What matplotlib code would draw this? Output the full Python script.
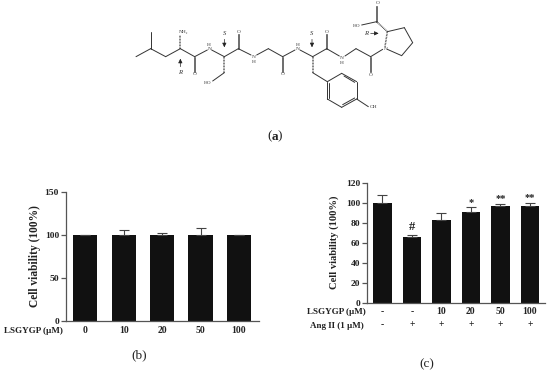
import matplotlib
matplotlib.use("Agg")
import matplotlib.pyplot as plt

W, H = 550, 373
plt.rcParams['font.family'] = ['Liberation Serif', 'DejaVu Serif']

doses_b = ['0', '10', '20', '50', '100']
values_b = [100, 100.3, 100.2, 100, 100]
errors_b = [0.3, 5, 2.5, 8, 0.3]

lsgygp_c = ['-', '-', '10', '20', '50', '100']
angii_c = ['-', '+', '+', '+', '+', '+']
values_c = [100, 66, 83, 90.5, 96.5, 97]
errors_c = [7.5, 1.5, 7, 5, 2.5, 3]
marks_c = ['', '#', '', '*', '**', '**']

fig = plt.figure(figsize=(W / 100, H / 100), dpi=100)


def make_axes(l, t, r, b):
    return fig.add_axes([l / W, 1 - b / H, (r - l) / W, (b - t) / H])


def style(ax, ticks, ylabel_size, pad):
    for s in ('top', 'right'):
        ax.spines[s].set_visible(False)
    for s in ('left', 'bottom'):
        ax.spines[s].set_color('#555555')
        ax.spines[s].set_linewidth(0.9)
    ax.set_yticks(ticks)
    ax.tick_params(axis='y', length=3.5, width=0.9, color='#555555', pad=1.5, labelsize=6.8)
    ax.tick_params(axis='x', length=0)
    ax.set_xticks([])
    for t in ax.get_yticklabels():
        t.set_fontweight('bold')
        t.set_color('#222222')
    ax.set_ylabel('Cell viability (100%)', fontsize=ylabel_size, fontweight='bold', color='#222222', labelpad=pad)


def bars(ax, vals, errs):
    x = list(range(len(vals)))
    ax.bar(x, vals, width=0.63, color='#111111')
    ax.errorbar(x, vals, yerr=[[0] * len(vals), errs], fmt='none', ecolor='#444444',
                elinewidth=0.8, capsize=3.6, capthick=0.8)
    return x


# Panel b
axb = make_axes(66, 192, 259, 320.7)
xb = bars(axb, values_b, errors_b)
axb.set_xlim(-0.5, 4.5 + 0.02)
axb.set_ylim(0, 150)
style(axb, [0, 50, 100, 150], 8.3, 3)
for xi, lab in zip(xb, doses_b):
    axb.annotate(lab, (xi, 0), xytext=(0, -7.2), textcoords='offset points', ha='center', va='center',
                 fontsize=6.9, fontweight='bold', color='#222222')
fig.text(33.7 / W, 1 - 331 / H, 'LSGYGP (µM)', ha='center', va='center', fontsize=6.6, fontweight='bold', color='#222222')
fig.text(139 / W, 1 - 355 / H, '(b)', ha='center', va='center', fontsize=9.5, color='#222222')

# Panel c
axc = make_axes(367.3, 182.7, 545, 302.7)
xc = bars(axc, values_c, errors_c)
axc.set_xlim(-0.51, 5.51)
axc.set_ylim(0, 120)
style(axc, [0, 20, 40, 60, 80, 100, 120], 7.6, 5)
for xi, a, b, v, e, m in zip(xc, lsgygp_c, angii_c, values_c, errors_c, marks_c):
    axc.annotate(a, (xi, 0), xytext=(0, -6.5), textcoords='offset points', ha='center', va='center',
                 fontsize=6.9, fontweight='bold', color='#222222')
    axc.annotate(b, (xi, 0), xytext=(0, -16), textcoords='offset points', ha='center', va='center',
                 fontsize=6.9, fontweight='bold', color='#222222')
    if m:
        axc.annotate(m, (xi, v + e), xytext=(0, 3.5 if m != '#' else 6), textcoords='offset points',
                     ha='center', va='center', fontsize=7.5 if m != '#' else 9, fontweight='bold', color='#222222')
fig.text(336.5 / W, 1 - 312 / H, 'LSGYGP (µM)', ha='center', va='center', fontsize=6.5, fontweight='bold', color='#222222')
fig.text(337 / W, 1 - 325.5 / H, 'Ang II (1 µM)', ha='center', va='center', fontsize=6.5, fontweight='bold', color='#222222')
fig.text(427 / W, 1 - 364 / H, '(c)', ha='center', va='center', fontsize=9.5, color='#222222')

# Panel a: peptide structure, in pixel coordinates of the figure
mol = fig.add_axes([0, 0, 1, 1], zorder=5)
mol.set_xlim(0, W)
mol.set_ylim(H, 0)
mol.axis('off')


def P(x, y):
    return 120 + x / 3, y / 3


bonds = [
    ((48, 170), (92, 146)), ((92, 146), (92, 97)), ((92, 146), (137, 170)), ((137, 170), (181, 146)),
    ((181, 146), (224, 170)), ((224, 170), (262, 150)), ((275, 150), (313, 170)), ((313, 170), (355, 146)),
    ((355, 146), (393, 165)), ((410, 165), (445, 146)), ((445, 146), (488, 170)), ((488, 170), (525, 150)),
    ((540, 150), (578, 170)), ((578, 170), (620, 146)), ((620, 146), (658, 168)), ((675, 168), (708, 146)),
    ((708, 146), (752, 170)), ((752, 170), (788, 148)), ((802, 95), (853, 83)), ((853, 83), (878, 128)),
    ((878, 128), (845, 167)), ((845, 167), (802, 148)), ((770, 65), (725, 75)), ((313, 218), (278, 243)),
    ((578, 218), (622, 245)), ((622, 245), (665, 220)), ((665, 220), (710, 245)), ((710, 245), (710, 297)),
    ((710, 297), (665, 322)), ((665, 322), (622, 297)), ((622, 297), (622, 245)), ((710, 297), (745, 320)),
]
double_bonds = [
    ((224, 170), (224, 215)), ((355, 146), (355, 102)), ((488, 170), (488, 215)),
    ((620, 146), (620, 102)), ((752, 170), (752, 216)), ((770, 65), (770, 17)),
]
inner_ring = [((672, 228), (704, 247)), ((704, 294), (668, 314)), ((628, 294), (628, 250))]
hashed = [((181, 146), (181, 106)), ((313, 170), (313, 218)), ((578, 170), (578, 218)),
          ((795, 140), (802, 95)), ((802, 95), (770, 65))]
arrows = [((313, 118), (313, 142)), ((181, 200), (181, 176)), ((576, 118), (576, 142)), ((752, 100), (776, 100))]
atoms = [
    (192, 97, 'NH₂'), (224, 222, 'O'), (267, 134, 'H'), (268, 148, 'N'), (357, 95, 'O'), (400, 170, 'N'),
    (400, 185, 'H'), (488, 222, 'O'), (533, 134, 'H'), (533, 148, 'N'), (621, 95, 'O'), (665, 174, 'N'),
    (665, 189, 'H'), (752, 225, 'O'), (796, 146, 'N'), (773, 10, 'O'), (710, 78, 'HO'), (262, 248, 'HO'),
    (760, 322, 'OH'),
]
stereo = [(313, 100, 'S'), (181, 218, 'R'), (576, 100, 'S'), (737, 100, 'R')]

INK = '#333333'
for a, b in bonds + inner_ring:
    (x0, y0), (x1, y1) = P(*a), P(*b)
    mol.plot([x0, x1], [y0, y1], color=INK, lw=0.7, solid_capstyle='round')
for a, b in double_bonds:
    (x0, y0), (x1, y1) = P(*a), P(*b)
    for d in (-0.7, 0.7):
        mol.plot([x0 + d, x1 + d], [y0, y1], color=INK, lw=0.5)
for a, b in hashed:
    (x0, y0), (x1, y1) = P(*a), P(*b)
    mol.plot([x0, x1], [y0, y1], color=INK, lw=1.1, ls=(0, (0.5, 0.5)))
for a, b in arrows:
    mol.annotate('', xy=P(*b), xytext=P(*a),
                 arrowprops=dict(arrowstyle='-|>,head_width=0.12,head_length=0.25', color='#222222', lw=0.5,
                                 shrinkA=0, shrinkB=0))
for x, y, s in atoms:
    px, py = P(x, y)
    mol.text(px, py, s, fontsize=3.8, ha='center', va='center', color=INK,
             family=['Liberation Serif', 'DejaVu Sans'])
for x, y, s in stereo:
    px, py = P(x, y)
    mol.text(px, py, s, fontsize=4.8, style='italic', ha='center', va='center', color=INK)

mol.text(269.6, 136, '(', fontsize=9.5, ha='center', va='center', color='#222222')
mol.text(274.6, 136.5, 'a', fontsize=9.5, fontweight='bold', ha='center', va='center', color='#222222')
mol.text(279.6, 136, ')', fontsize=9.5, ha='center', va='center', color='#222222')

fig.savefig('out.png', dpi=100)
